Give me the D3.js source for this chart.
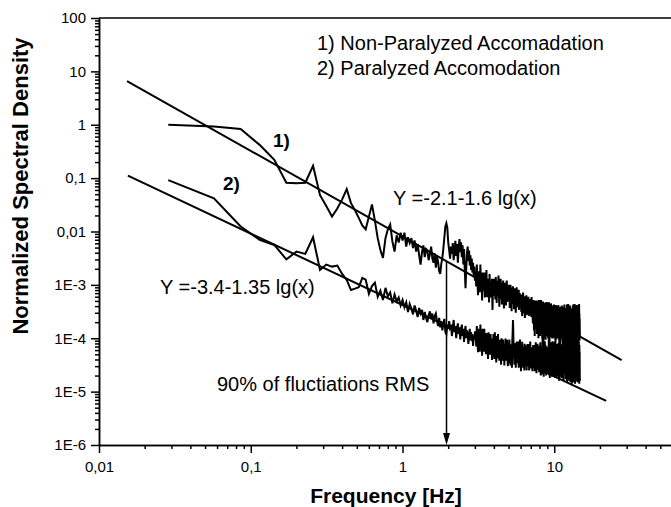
<!DOCTYPE html>
<html>
<head>
<meta charset="utf-8">
<script src="https://cdn.jsdelivr.net/npm/d3@7"></script>
<style>
  body { margin: 0; background: #fff; }
  svg { display: block; font-family: "Liberation Sans", Arial, sans-serif; }
</style>
</head>
<body>
<div id="psd_chart"></div>
<script>
// both spectra share the same FFT bin width, first bin = binHz
const binHz = 0.0286;

// 1) Non-Paralyzed Accomadation
const psd1 = [
  1.0, 0.93, 0.83, 0.42, 0.22, 0.082, 0.08, 0.082, 0.17, 0.048,
  0.03, 0.019, 0.027, 0.04, 0.062, 0.034, 0.025, 0.018, 0.013, 0.011,
  0.019, 0.032, 0.016, 0.0075, 0.0045, 0.0032, 0.0075, 0.011, 0.0135, 0.0065,
  0.0042, 0.0085, 0.0062, 0.0095, 0.0068,
  // 1 - 2 Hz
  0.0095, 0.0052, 0.0078, 0.0061, 0.0075, 0.0049, 0.0068, 0.0042, 0.0058, 0.0036,
  0.0024, 0.0041, 0.0055, 0.0033, 0.0047, 0.0044, 0.0029, 0.0038, 0.0052, 0.0031,
  0.0026, 0.0039, 0.0021, 0.0034, 0.0027, 0.0018, 0.0016, 0.0025, 0.0032, 0.0048,
  0.0078, 0.0125, 0.0143, 0.0118, 0.0062,
  // 2 - 3 Hz
  0.0045, 0.0031, 0.0052, 0.0038, 0.0061, 0.0029, 0.0044, 0.0067, 0.0035, 0.0058,
  0.0026, 0.0049, 0.0072, 0.0041, 0.0063, 0.0033, 0.0055, 0.0024, 0.0047, 0.0018,
  0.00087, 0.0021, 0.0039, 0.0052, 0.0028, 0.0044, 0.0023, 0.0036, 0.0019, 0.0031,
  0.0017, 0.0026, 0.0014, 0.0022, 0.0012,
  // 3 - 4 Hz
  1.7e-3, 9.3e-4, 2.4e-3, 1.2e-3, 6.4e-4, 1.8e-3, 1.35e-3, 7.3e-4, 2.4e-3, 9.4e-4,
  1.4e-3, 5.1e-4, 1.7e-3, 1.1e-3, 7.6e-4, 1.7e-3, 5.8e-4, 1.2e-3, 9.2e-4, 1.9e-3,
  5.9e-4, 1.07e-3, 7.7e-4, 1.3e-3, 4.7e-4, 1.6e-3, 9.1e-4, 5.8e-4, 1.15e-3, 7.5e-4,
  1.3e-3, 3.4e-4, 1.0e-3, 6.3e-4, 1.3e-3,
  // 4 - 5 Hz
  7.2e-4, 1.1e-3, 5.3e-4, 1.4e-3, 8.1e-4, 4.6e-4, 1.2e-3, 9.0e-4, 6.2e-4, 1.5e-3,
  7.0e-4, 3.9e-4, 1.0e-3, 8.4e-4, 1.3e-3, 5.5e-4, 9.6e-4, 4.3e-4, 1.1e-3, 7.4e-4,
  1.2e-3, 6.1e-4, 3.6e-4, 8.8e-4, 1.1e-3, 5.7e-4, 9.9e-4, 4.1e-4, 7.8e-4, 1.2e-3,
  6.6e-4, 4.8e-4, 9.2e-4, 5.9e-4, 1.0e-3,
  // 5 - 6 Hz
  5.1e-4, 8.3e-4, 3.7e-4, 6.9e-4, 1.0e-3, 5.4e-4, 7.6e-4, 3.2e-4, 8.9e-4, 6.0e-4,
  4.4e-4, 9.4e-4, 5.7e-4, 7.1e-4, 3.5e-4, 6.4e-4, 8.6e-4, 4.9e-4, 6.8e-4, 3.0e-4,
  7.9e-4, 5.2e-4, 9.0e-4, 4.2e-4, 6.1e-4, 3.8e-4, 7.3e-4, 5.0e-4, 8.1e-4, 3.4e-4,
  5.8e-4, 7.0e-4, 4.5e-4, 6.3e-4, 3.9e-4,
  // 6 - 7 Hz
  5.5e-4, 3.1e-4, 6.6e-4, 4.0e-4, 2.6e-4, 5.9e-4, 3.6e-4, 7.2e-4, 4.4e-4, 2.9e-4,
  5.2e-4, 3.3e-4, 6.1e-4, 2.4e-4, 4.7e-4, 3.0e-4, 5.6e-4, 3.8e-4, 6.4e-4, 2.7e-4,
  4.9e-4, 3.4e-4, 5.8e-4, 2.8e-4, 4.3e-4, 6.0e-4, 3.1e-4, 4.6e-4, 2.6e-4, 5.3e-4,
  3.7e-4, 4.8e-4, 2.9e-4, 5.5e-4, 3.2e-4,
  // 7 - 8 Hz
  4.3e-4, 2.5e-4, 5.9e-4, 2.6e-4, 3.5e-4, 5.0e-4, 2.4e-4, 1.9e-4, 5.2e-4, 2.2e-4,
  3.7e-4, 1.4e-4, 5.1e-4, 2.7e-4, 1.1e-4, 4.2e-4, 2.0e-4, 5.1e-4, 2.9e-4, 1.5e-4,
  4.4e-4, 2.2e-4, 3.3e-4, 1.2e-4, 5.1e-4, 2.4e-4, 1.5e-4, 4.5e-4, 2.7e-4, 1.0e-4,
  3.8e-4, 2.0e-4, 5.2e-4, 1.7e-4, 3.1e-4,
  // 8 - 9 Hz
  2.1e-4, 1.1e-4, 4.0e-4, 2.7e-4, 1.6e-4, 5.2e-4, 1.8e-4, 3.1e-4, 1.2e-4, 4.3e-4,
  2.3e-4, 9.9e-5, 3.6e-4, 1.7e-4, 4.9e-4, 2.6e-4, 7.3e-5, 3.9e-4, 2.0e-4, 3.0e-4,
  1.1e-4, 4.6e-4, 2.2e-4, 1.0e-4, 4.2e-4, 2.5e-4, 9.4e-5, 3.5e-4, 1.8e-4, 4.8e-4,
  1.6e-4, 2.9e-4, 1.1e-4, 4.7e-4, 2.1e-4,
  // 9 - 10 Hz
  3.1e-4, 1.3e-4, 4.2e-4, 1.0e-4, 3.6e-4, 2.5e-4, 1.4e-4, 4.7e-4, 1.6e-4, 6.6e-5,
  2.8e-4, 1.1e-4, 3.9e-4, 2.1e-4, 1.2e-4, 3.3e-4, 1.5e-4, 4.5e-4, 2.4e-4, 1.05e-4,
  3.5e-4, 1.8e-4, 2.7e-4, 9.9e-5, 4.1e-4, 2.0e-4, 1.0e-4, 3.8e-4, 2.2e-4, 1.2e-4,
  3.2e-4, 1.6e-4, 4.3e-4, 1.4e-4, 2.6e-4,
  // 10 - 11 Hz
  2.7e-4, 1.0e-4, 3.8e-4, 1.5e-4, 3.3e-4, 6.7e-5, 2.2e-4, 4.2e-4, 1.3e-4, 2.5e-4,
  9.5e-5, 3.5e-4, 1.9e-4, 1.2e-4, 4.0e-4, 1.4e-4, 2.9e-4, 1.0e-4, 2.1e-4, 3.2e-4,
  1.05e-4, 4.2e-4, 1.6e-4, 2.4e-4, 1.1e-4, 3.7e-4, 1.8e-4, 8.8e-5, 3.4e-4, 2.0e-4,
  6.3e-5, 2.8e-4, 1.5e-4, 3.9e-4, 1.3e-4,
  // 11 - 12 Hz
  2.1e-4, 1.0e-4, 3.7e-4, 1.6e-4, 2.8e-4, 1.1e-4, 4.1e-4, 1.4e-4, 2.3e-4, 8.8e-5,
  3.2e-4, 5.9e-5, 2.0e-4, 3.5e-4, 1.1e-4, 2.6e-4, 1.0e-4, 3.9e-4, 1.8e-4, 1.05e-4,
  3.0e-4, 1.5e-4, 4.3e-4, 1.05e-4, 2.4e-4, 1.3e-4, 3.3e-4, 7.8e-5, 2.0e-4, 3.7e-4,
  1.2e-4, 2.7e-4, 5.5e-5, 3.1e-4, 1.7e-4,
  // 12 - 13 Hz
  3.7e-4, 8.3e-5, 2.4e-4, 4.3e-4, 1.1e-4, 2.8e-4, 5.6e-5, 2.0e-4, 3.9e-4, 9.3e-5,
  2.6e-4, 4.4e-4, 1.4e-4, 3.0e-4, 1.0e-4, 2.2e-4, 3.7e-4, 1.0e-4, 2.5e-4, 1.0e-4,
  1.7e-4, 3.5e-4, 9.3e-5, 2.3e-4, 4.1e-4, 1.3e-4, 2.8e-4, 7.0e-5, 1.9e-4, 3.4e-4,
  8.3e-5, 2.4e-4, 1.0e-4, 1.85e-4, 3.1e-4,
  // 13 - 14 Hz
  1.2e-4, 2.2e-4, 3.6e-4, 1.4e-4, 2.6e-4, 1.0e-4, 2.1e-4, 3.8e-4, 1.6e-4, 2.9e-4,
  4.3e-4, 1.8e-4, 3.1e-4, 9.0e-5, 2.4e-4, 4.1e-4, 1.7e-4, 3.4e-4, 9.9e-5, 2.8e-4,
  4.4e-4, 1.9e-4, 3.2e-4, 8.1e-5, 2.3e-4, 4.0e-4, 1.4e-4, 2.7e-4, 6.8e-5, 2.0e-4,
  3.5e-4, 1.3e-4, 2.6e-4, 4.2e-4, 1.5e-4,
  // 14 - 14.8 Hz
  3.0e-4, 8.0e-5, 2.3e-4, 3.9e-4, 1.3e-4, 2.8e-4, 6.5e-5, 2.1e-4, 3.5e-4, 1.1e-4,
  2.5e-4, 4.2e-4, 1.6e-4, 3.1e-4, 1.1e-4, 2.2e-4, 3.8e-4, 1.3e-4, 2.7e-4, 4.4e-4,
  1.7e-4, 2.9e-4, 9.0e-5, 2.4e-4, 1.5e-4, 1.0e-4
];

// 2) Paralyzed Accomodation
const psd2 = [
  0.092, 0.042, 0.0124, 0.007, 0.0056, 0.003, 0.0042, 0.0038, 0.0078, 0.0019,
  0.0024, 0.0022, 0.0023, 0.0016, 0.00124, 0.0008, 0.00085, 0.0009, 0.00135, 0.00125,
  0.00068, 0.00095, 0.0011, 0.0006, 0.00078, 0.00052, 0.00088, 0.00061, 0.00072, 0.00045,
  0.00066, 0.00049, 0.00058, 0.00041, 0.00052,
  // 1 - 2 Hz
  3.8e-4, 4.7e-4, 3.1e-4, 4.4e-4, 3.6e-4, 2.8e-4, 4.1e-4, 3.3e-4, 2.5e-4, 3.7e-4,
  2.9e-4, 3.4e-4, 2.2e-4, 3.1e-4, 2.4e-4, 2.0e-4, 2.7e-4, 3.2e-4, 2.3e-4, 2.9e-4,
  1.9e-4, 2.6e-4, 2.9e-4, 2.1e-4, 1.7e-4, 2.4e-4, 1.6e-4, 2.1e-4, 1.4e-4, 1.9e-4,
  2.3e-4, 1.3e-4, 1.2e-4, 1.8e-4, 1.5e-4,
  // 2 - 3 Hz
  2.1e-4, 1.4e-4, 1.8e-4, 1.1e-4, 1.6e-4, 2.2e-4, 1.3e-4, 1.7e-4, 1.0e-4, 1.5e-4,
  1.9e-4, 1.2e-4, 1.6e-4, 9.5e-5, 1.4e-4, 1.8e-4, 1.1e-4, 1.5e-4, 8.5e-5, 1.3e-4,
  1.7e-4, 1.0e-4, 1.4e-4, 1.2e-4, 7.8e-5, 1.1e-4, 1.5e-4, 9.2e-5, 1.3e-4, 8.8e-5,
  1.2e-4, 7.2e-5, 1.1e-4, 9.5e-5, 1.3e-4,
  // 3 - 4 Hz
  1.3e-4, 7.0e-5, 1.7e-4, 8.5e-5, 5.5e-5, 1.5e-4, 1.0e-4, 5.6e-5, 1.8e-4, 7.4e-5,
  1.1e-4, 4.7e-5, 1.5e-4, 8.8e-5, 5.6e-5, 1.5e-4, 6.5e-5, 9.5e-5, 5.0e-5, 1.25e-4,
  7.7e-5, 9.9e-5, 4.1e-5, 1.3e-4, 6.3e-5, 8.3e-5, 4.9e-5, 1.2e-4, 5.1e-5, 9.9e-5,
  3.9e-5, 8.4e-5, 6.4e-5, 1.2e-4, 4.8e-5,
  // 4 - 5 Hz
  4.1e-5, 1.3e-4, 5.5e-5, 8.3e-5, 3.5e-5, 1.1e-4, 6.6e-5, 4.2e-5, 1.2e-4, 4.9e-5,
  7.2e-5, 3.8e-5, 9.4e-5, 5.9e-5, 7.6e-5, 3.2e-5, 1.0e-4, 4.9e-5, 6.4e-5, 3.8e-5,
  9.5e-5, 4.1e-5, 7.8e-5, 3.1e-5, 6.7e-5, 5.1e-5, 9.9e-5, 3.8e-5, 7.2e-5, 3.9e-5,
  9.4e-5, 4.7e-5, 3.0e-5, 8.3e-5, 5.5e-5,
  // 5 - 6 Hz
  3.4e-5, 9.5e-5, 4.0e-5, 5.8e-5, 3.1e-5, 7.7e-5, 4.8e-5, 6.6e-5, 2.8e-5, 8.7e-5,
  1.3e-4, 2.2e-4, 1.1e-4, 4.2e-5, 5.5e-5, 3.2e-5, 8.1e-5, 3.6e-5, 7.0e-5, 2.8e-5,
  6.0e-5, 4.5e-5, 8.7e-5, 3.4e-5, 6.6e-5, 3.6e-5, 8.7e-5, 4.3e-5, 2.8e-5, 7.5e-5,
  5.0e-5, 3.0e-5, 9.5e-5, 4.0e-5, 6.0e-5,
  // 6 - 7 Hz
  2.4e-5, 7.7e-5, 4.6e-5, 3.1e-5, 8.6e-5, 3.6e-5, 5.3e-5, 2.8e-5, 7.0e-5, 4.3e-5,
  6.0e-5, 2.5e-5, 7.9e-5, 3.8e-5, 5.0e-5, 3.0e-5, 7.4e-5, 3.4e-5, 6.2e-5, 2.5e-5,
  5.3e-5, 4.0e-5, 7.8e-5, 3.0e-5, 6.0e-5, 3.2e-5, 7.8e-5, 3.9e-5, 2.5e-5, 6.9e-5,
  4.6e-5, 2.8e-5, 8.7e-5, 3.7e-5, 5.5e-5,
  // 7 - 8 Hz
  4.6e-5, 2.7e-5, 6.8e-5, 3.1e-5, 5.9e-5, 2.4e-5, 5.1e-5, 3.9e-5, 7.5e-5, 2.9e-5,
  5.7e-5, 3.1e-5, 7.5e-5, 3.7e-5, 2.4e-5, 6.6e-5, 4.4e-5, 2.6e-5, 8.4e-5, 3.5e-5,
  5.3e-5, 2.2e-5, 7.0e-5, 4.2e-5, 2.9e-5, 7.9e-5, 3.3e-5, 4.8e-5, 2.6e-5, 6.4e-5,
  4.0e-5, 5.5e-5, 2.3e-5, 7.3e-5, 3.5e-5,
  // 8 - 9 Hz
  5.9e-5, 2.5e-5, 8.4e-5, 3.6e-5, 2.0e-5, 7.1e-5, 4.6e-5, 2.3e-5, 7.0e-5, 3.2e-5,
  5.3e-5, 2.1e-5, 1.1e-4, 1.3e-4, 5.5e-5, 2.7e-5, 6.3e-5, 1.9e-5, 8.0e-5, 3.8e-5,
  5.0e-5, 2.2e-5, 8.8e-5, 3.4e-5, 5.7e-5, 2.5e-5, 7.4e-5, 4.2e-5, 2.0e-5, 6.7e-5,
  2.9e-5, 6.9e-5, 4.0e-5, 2.3e-5, 6.1e-5,
  // 9 - 10 Hz
  6.8e-5, 4.4e-5, 2.2e-5, 6.8e-5, 3.0e-5, 5.0e-5, 1.05e-4, 1.3e-4, 5.2e-5, 2.0e-5,
  6.0e-5, 1.8e-5, 7.6e-5, 3.6e-5, 4.8e-5, 2.1e-5, 8.4e-5, 3.2e-5, 5.4e-5, 2.4e-5,
  7.0e-5, 4.0e-5, 1.9e-5, 6.4e-5, 2.8e-5, 8.8e-5, 3.8e-5, 2.2e-5, 5.8e-5, 5.6e-5,
  2.4e-5, 8.0e-5, 3.4e-5, 1.9e-5, 6.8e-5,
  // 10 - 11 Hz
  2.1e-5, 8.6e-5, 3.5e-5, 5.5e-5, 1.8e-5, 7.0e-5, 2.7e-5, 7.2e-5, 4.3e-5, 2.0e-5,
  6.2e-5, 3.1e-5, 7.8e-5, 1.9e-5, 5.1e-5, 2.5e-5, 6.9e-5, 3.7e-5, 2.0e-5, 6.8e-5,
  4.5e-5, 2.3e-5, 8.2e-5, 2.9e-5, 5.7e-5, 1.6e-5, 7.4e-5, 3.3e-5, 1.1e-4, 4.7e-5,
  2.1e-5, 6.2e-5, 2.7e-5, 7.8e-5, 3.9e-5,
  // 11 - 12 Hz
  1.9e-5, 6.1e-5, 3.0e-5, 7.6e-5, 1.8e-5, 4.9e-5, 2.5e-5, 6.8e-5, 3.6e-5, 1.9e-5,
  6.7e-5, 4.4e-5, 2.3e-5, 8.0e-5, 2.9e-5, 5.5e-5, 1.6e-5, 7.2e-5, 3.2e-5, 1.1e-4,
  4.6e-5, 2.1e-5, 6.1e-5, 2.7e-5, 7.6e-5, 3.8e-5, 2.1e-5, 8.4e-5, 3.4e-5, 5.3e-5,
  1.7e-5, 6.8e-5, 2.7e-5, 7.0e-5, 4.2e-5,
  // 12 - 13 Hz
  5.6e-5, 1.9e-5, 7.1e-5, 3.3e-5, 1.5e-5, 7.0e-5, 1.26e-4, 4.4e-5, 2.0e-5, 8.1e-5,
  2.6e-5, 5.2e-5, 1.6e-5, 7.4e-5, 3.7e-5, 2.2e-5, 6.3e-5, 1.33e-4, 3.0e-5, 1.7e-5,
  7.4e-5, 4.1e-5, 1.9e-5, 6.7e-5, 2.8e-5, 4.8e-5, 1.5e-5, 7.6e-5, 3.3e-5, 5.9e-5,
  2.0e-5, 8.5e-5, 2.4e-5, 4.4e-5, 1.7e-5,
  // 13 - 14 Hz
  3.2e-5, 1.4e-5, 6.8e-5, 1.22e-4, 4.3e-5, 2.0e-5, 7.9e-5, 2.5e-5, 5.0e-5, 1.5e-5,
  7.0e-5, 3.6e-5, 2.2e-5, 6.1e-5, 1.3e-4, 2.9e-5, 1.6e-5, 7.2e-5, 4.0e-5, 1.8e-5,
  6.6e-5, 2.7e-5, 4.7e-5, 1.4e-5, 7.3e-5, 3.2e-5, 5.8e-5, 2.0e-5, 8.3e-5, 2.3e-5,
  4.3e-5, 1.6e-5, 5.4e-5, 1.8e-5, 6.9e-5,
  // 14 - 14.8 Hz
  1.2e-4, 4.2e-5, 1.9e-5, 7.7e-5, 2.5e-5, 4.9e-5, 1.5e-5, 7.2e-5, 3.5e-5, 2.1e-5,
  6.0e-5, 1.26e-4, 2.8e-5, 1.6e-5, 7.0e-5, 3.9e-5, 1.8e-5, 8.8e-5, 2.6e-5, 4.6e-5,
  1.4e-5, 7.5e-5, 3.2e-5, 5.6e-5, 1.9e-5, 1.6e-5
];

// power-law fits, end points as drawn [Hz, density]
const fit1 = [[0.0153, 6.6], [27.8, 3.9e-5]];
const fit2 = [[0.0155, 0.111], [22, 6.7e-6]];

// arrow: 90% of fluctiations RMS
const rmsFreq = 1.95, rmsTop = 2.7e-3;

const xTicks = [0.01, 0.1, 1, 10];
const xLabels = ["0,01", "0,1", "1", "10"];
const yTicks = [1e-6, 1e-5, 1e-4, 1e-3, 0.01, 0.1, 1, 10, 100];
const yLabels = ["1E-6", "1E-5", "1E-4", "1E-3", "0,01", "0,1", "1", "10", "100"];
const legendLines = ["1) Non-Paralyzed Accomadation", "2) Paralyzed Accomodation"];

let width = 671, height = 507;

const svg = d3.select("#psd_chart")
  .append("svg")
  .attr("width", width)
  .attr("height", height);

svg.append("rect").attr("width", width).attr("height", height).attr("fill", "#fff");

let x = d3.scaleLog().domain([0.01, 100]).range([99, 706]);
let y = d3.scaleLog().domain([1e-6, 100]).range([445, 18]);

const isDecade = d => Math.abs(Math.log10(d) - Math.round(Math.log10(d))) < 1e-9;

// minor ticks
svg.append("g")
  .attr("transform", `translate(0,${y(1e-6)})`)
  .call(d3.axisBottom(x).tickValues(x.ticks().filter(d => !isDecade(d))).tickSize(4).tickFormat("").tickSizeOuter(0));
svg.append("g")
  .attr("transform", `translate(${x(0.01)},0)`)
  .call(d3.axisLeft(y).tickValues(y.ticks().filter(d => !isDecade(d))).tickSize(4).tickFormat("").tickSizeOuter(0));

// major ticks + labels
svg.append("g")
  .attr("class", "x-axis")
  .attr("transform", `translate(0,${y(1e-6)})`)
  .call(d3.axisBottom(x).tickValues(xTicks).tickSize(8).tickPadding(8).tickSizeOuter(0)
    .tickFormat((d, i) => xLabels[i]));
svg.append("g")
  .attr("class", "y-axis")
  .attr("transform", `translate(${x(0.01)},0)`)
  .call(d3.axisLeft(y).tickValues(yTicks).tickSize(8).tickPadding(5).tickSizeOuter(0)
    .tickFormat((d, i) => yLabels[i]));

svg.selectAll(".x-axis, .y-axis").attr("font-family", null).attr("font-size", 15);
svg.selectAll(".tick text").attr("fill", "#000");
svg.selectAll(".domain, .tick line").attr("stroke", "#000").attr("stroke-width", 1.5);

// top frame
svg.append("line")
  .attr("x1", x(0.01)).attr("x2", width)
  .attr("y1", y(100)).attr("y2", y(100))
  .attr("stroke", "#000").attr("stroke-width", 1.5);

const line = d3.line()
  .x(d => x(d[0]))
  .y(d => y(d[1]));

const series = [psd1, psd2].map(vals => vals.map((v, i) => [binHz * (i + 1), v]));

svg.append("g")
  .selectAll("path")
  .data(series)
  .join("path")
  .attr("d", line)
  .attr("fill", "none")
  .attr("stroke", "#000")
  .attr("stroke-width", 2);

svg.append("g")
  .selectAll("path")
  .data([fit1, fit2])
  .join("path")
  .attr("d", line)
  .attr("fill", "none")
  .attr("stroke", "#000")
  .attr("stroke-width", 2);

// arrow down to the axis
const ax = x(rmsFreq);
svg.append("line")
  .attr("x1", ax).attr("x2", ax)
  .attr("y1", y(rmsTop)).attr("y2", y(1e-6) - 8)
  .attr("stroke", "#000").attr("stroke-width", 1.5);
svg.append("path")
  .attr("d", `M${ax},${y(1e-6)} l-3.5,-12 l7,0 Z`)
  .attr("fill", "#000");

// legend
svg.append("g")
  .selectAll("text")
  .data(legendLines)
  .join("text")
  .attr("x", 317)
  .attr("y", (d, i) => 50 + i * 25)
  .attr("font-size", 20)
  .text(d => d);

svg.append("text").attr("x", 273).attr("y", 147).attr("font-size", 19).attr("font-weight", "bold").text("1)");
svg.append("text").attr("x", 223).attr("y", 190).attr("font-size", 19).attr("font-weight", "bold").text("2)");
svg.append("text").attr("x", 393).attr("y", 205).attr("font-size", 20).text("Y =-2.1-1.6 lg(x)");
svg.append("text").attr("x", 160).attr("y", 294).attr("font-size", 20).text("Y =-3.4-1.35 lg(x)");
svg.append("text").attr("x", 217).attr("y", 391).attr("font-size", 20).text("90% of fluctiations RMS");

// axis titles
svg.append("text")
  .attr("x", 386).attr("y", 503)
  .attr("text-anchor", "middle")
  .attr("font-size", 21).attr("font-weight", "bold")
  .text("Frequency [Hz]");

svg.append("text")
  .attr("transform", "translate(28,186) rotate(-90)")
  .attr("text-anchor", "middle")
  .attr("font-size", 22).attr("font-weight", "bold")
  .text("Normalized Spectral Density");
</script>
</body>
</html>
